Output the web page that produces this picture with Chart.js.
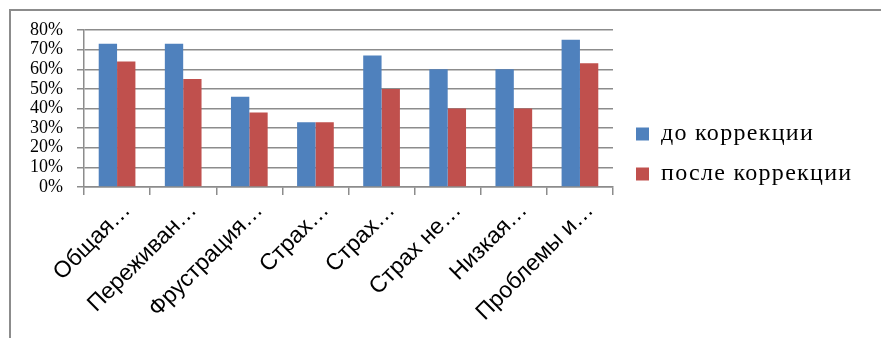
<!DOCTYPE html>
<html>
<head>
<meta charset="utf-8">
<script src="https://cdn.jsdelivr.net/npm/chart.js@4/dist/chart.umd.min.js"></script>
<style>
    html, body { margin: 0; padding: 0; background: #fff; overflow: hidden; }
    #wrap { position: relative; width: 881px; height: 338px; }
    #frame {
        position: absolute; left: 9px; top: 9px; width: 900px; height: 360px;
        border-top: 2px solid #8c8c8c; border-left: 2px solid #8c8c8c;
    }
    canvas { position: absolute; left: 0; top: 0; }
</style>
</head>
<body>
<div id="wrap">
    <div id="frame"></div>
    <canvas id="chart"></canvas>
</div>
<script>
const categories = ['Общая…', 'Переживан…', 'Фрустрация…', 'Страх…', 'Страх…', 'Страх не…', 'Низкая…', 'Проблемы и…'];
const beforeValues = [73, 73, 46, 33, 67, 60, 60, 75];
const afterValues = [64, 55, 38, 33, 50, 40, 40, 63];
const seriesNames = ['до коррекции', 'после коррекции'];
const yTicks = [0, 10, 20, 30, 40, 50, 60, 70, 80];

const gridColor = '#8c8c8c';
const legendWidth = 268;

// spaced-out legend text, fixed legend column width, legend nudged up
const legendTweak = {
    id: 'legendTweak',
    afterInit(chart) {
        const legend = chart.legend;
        const fit = legend.fit.bind(legend);
        const draw = legend.draw.bind(legend);
        legend.fit = function () {
            chart.ctx.save();
            chart.ctx.letterSpacing = '1.3px';
            fit();
            chart.ctx.restore();
            legend.width = legendWidth;
        };
        legend.draw = function () {
            chart.ctx.save();
            chart.ctx.letterSpacing = '1.3px';
            chart.ctx.translate(7, -30);
            draw();
            chart.ctx.restore();
        };
    }
};

const ctx = document.getElementById('chart').getContext('2d');
new Chart(ctx, {
    type: 'bar',
    data: {
        labels: categories,
        datasets: [{
            label: seriesNames[0],
            data: beforeValues,
            backgroundColor: '#4f81bd',
            borderWidth: 0
        }, {
            label: seriesNames[1],
            data: afterValues,
            backgroundColor: '#c0504d',
            borderWidth: 0
        }]
    },
    plugins: [legendTweak],
    options: {
        responsive: true,
        maintainAspectRatio: false,
        animation: false,
        layout: { padding: { top: 30, left: 0, right: 0, bottom: 0 } },
        datasets: {
            bar: { categoryPercentage: 0.555, barPercentage: 1 }
        },
        scales: {
            x: {
                afterFit: scale => { scale.height = 151; },
                grid: { offset: true, drawOnChartArea: false, color: gridColor, lineWidth: 1.5, tickLength: 8 },
                border: { color: gridColor, width: 1.5 },
                ticks: {
                    color: '#000',
                    maxRotation: 45,
                    minRotation: 45,
                    autoSkip: false,
                    padding: 2,
                    labelOffset: 10,
                    font: { family: 'Liberation Sans', size: 23 }
                }
            },
            y: {
                min: yTicks[0],
                max: yTicks[yTicks.length - 1],
                afterFit: scale => { scale.width = 84; },
                afterBuildTicks: scale => { scale.ticks = yTicks.map(v => ({ value: v })); },
                grid: { color: gridColor, lineWidth: 1.5, tickLength: 7 },
                border: { color: gridColor, width: 1.5 },
                ticks: {
                    autoSkip: false,
                    color: '#000',
                    padding: 14,
                    callback: v => v + '%',
                    font: { family: 'Liberation Serif', size: 18 }
                }
            }
        },
        plugins: {
            tooltip: { enabled: false },
            legend: {
                position: 'right',
                labels: {
                    color: '#000',
                    boxWidth: 13,
                    boxHeight: 13,
                    padding: 16,
                    font: { family: 'Liberation Serif', size: 24 }
                }
            }
        }
    }
});
</script>
</body>
</html>
